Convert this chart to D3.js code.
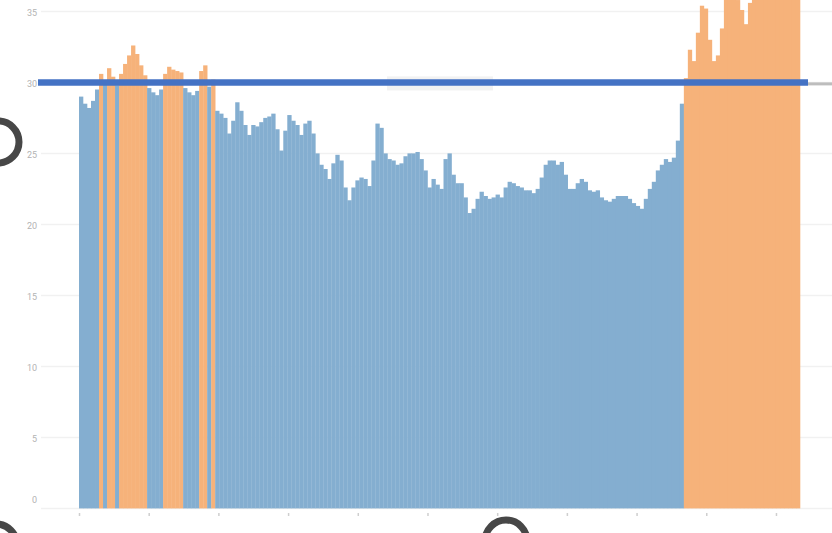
<!DOCTYPE html>
<html>
<head>
<meta charset="utf-8">
<script src="https://cdn.jsdelivr.net/npm/d3@7"></script>
<style>
  html, body { margin: 0; padding: 0; background: #fff; overflow: hidden; }
  svg { display: block; }
</style>
</head>
<body>
<svg id="chart" width="832" height="533"></svg>
<script>
// ---- data ----
const values = [
  29.0, 28.5, 28.2, 28.7, 29.5, 30.6, 29.9, 31.0, 30.4, 29.8,
  30.6, 31.3, 31.9, 32.6, 32.0, 31.2, 30.5, 29.6, 29.3, 29.1,
  29.5, 30.6, 31.1, 30.9, 30.8, 30.7, 29.6, 29.3, 29.1, 29.4,
  30.8, 31.2, 29.7, 30.2, 28.0, 27.8, 27.5, 26.4, 27.3, 28.6,
  28.0, 27.0, 26.3, 27.0, 26.9, 27.2, 27.5, 27.6, 27.8, 26.7,
  25.2, 26.6, 27.7, 27.3, 27.0, 26.3, 27.1, 27.3, 26.4, 25.0,
  24.2, 23.9, 23.2, 24.3, 24.9, 24.5, 22.6, 21.7, 22.6, 23.1,
  23.3, 23.2, 22.7, 24.5, 27.1, 26.8, 25.0, 24.6, 24.5, 24.2,
  24.3, 24.8, 25.0, 25.0, 25.1, 24.6, 23.8, 22.6, 23.2, 22.8,
  22.5, 24.6, 25.0, 23.5, 22.9, 22.9, 21.9, 20.8, 21.1, 21.8,
  22.3, 22.0, 21.8, 21.9, 22.1, 21.9, 22.6, 23.0, 22.9, 22.7,
  22.6, 22.4, 22.4, 22.2, 22.5, 23.3, 24.2, 24.5, 24.5, 24.2,
  24.4, 23.5, 22.5, 22.5, 22.9, 23.2, 23.0, 22.4, 22.3, 22.4,
  21.9, 21.7, 21.6, 21.8, 22.0, 22.0, 22.0, 21.8, 21.5, 21.3,
  21.1, 21.8, 22.5, 23.0, 23.8, 24.2, 24.6, 24.4, 24.7, 25.9,
  28.5, 30.3, 32.3, 31.5, 33.5, 35.4, 35.2, 33.0, 31.5, 31.9,
  33.8, 36.8, 37.5, 37.2, 35.8, 35.1, 34.1, 35.6, 36.6, 37.4,
  38.0, 37.6, 38.2, 37.8, 38.5, 38.1, 37.9, 38.4, 38.0, 37.7
];
const threshold = 30;
const yTickValues = [0, 5, 10, 15, 20, 25, 30, 35];
const yTickLabels = ["0", "5", "10", "15", "20", "25", "30", "35"];
const xTickIndex = [0, 17.4, 34.8, 52.2, 69.6, 87, 104.4, 121.8, 139.2, 156.6, 174];

// ---- layout ----
const svg = d3.select("#chart");
const plotLeft = 79, plotRight = 800;
const y = d3.scaleLinear().domain([0, 35]).range([508.4, 11.4]);
const x = d3.scaleBand().domain(d3.range(values.length)).range([plotLeft, plotRight]).paddingInner(0);
const xLin = d3.scaleLinear().domain([0, values.length]).range([plotLeft, plotRight]);

// gridlines
svg.append("g").selectAll("line").data(yTickValues).join("line")
  .attr("x1", 41).attr("x2", 832)
  .attr("y1", d => y(d)).attr("y2", d => y(d))
  .attr("stroke", "#f1f1f1").attr("stroke-width", 1.5);

// y labels
const yAxis = d3.axisLeft(y).tickValues(yTickValues).tickFormat((d, i) => yTickLabels[i]).tickSize(0).tickPadding(0);
const gy = svg.append("g").attr("transform", "translate(37,0)").call(yAxis);
gy.select(".domain").remove();
gy.selectAll("text")
  .attr("font-family", "Roboto, 'Liberation Sans', sans-serif")
  .attr("font-size", 9).attr("fill", "#b3b3b3")
  .attr("dy", d => d === 0 ? "-0.7em" : "0.4em");

// bars
svg.append("g").selectAll("rect").data(values).join("rect")
  .attr("x", (d, i) => x(i))
  .attr("width", x.bandwidth() + 0.3)
  .attr("y", d => y(d))
  .attr("height", d => y(0) - y(d))
  .attr("fill", d => d > threshold ? "#F6B27A" : "#84AED0");

// x axis ticks
const xAxis = d3.axisBottom(xLin).tickValues(xTickIndex).tickFormat("").tickSize(3);
const gx = svg.append("g").attr("transform", "translate(0,513)").call(xAxis);
gx.select(".domain").remove();
gx.selectAll("line").attr("stroke", "#cfcfcf").attr("stroke-width", 1.5);

// faint label box behind the reference line
svg.append("rect").attr("x", 387).attr("y", y(threshold) - 6).attr("width", 106).attr("height", 14)
  .attr("fill", "#ececec").attr("opacity", 0.7);

// reference line at threshold
svg.append("line").attr("x1", 808).attr("x2", 832)
  .attr("y1", y(threshold) + 1.5).attr("y2", y(threshold) + 1.5)
  .attr("stroke", "#bdbdbd").attr("stroke-width", 3);
svg.append("line").attr("x1", 38).attr("x2", 808)
  .attr("y1", y(threshold)).attr("y2", y(threshold))
  .attr("stroke", "#4472C4").attr("stroke-width", 6.5);

// overlay rings (cursor markers)
const rings = [{cx: -2, cy: 142, r: 21}, {cx: -4, cy: 545, r: 21}, {cx: 506, cy: 541, r: 21}];
svg.append("g").selectAll("circle").data(rings).join("circle")
  .attr("cx", d => d.cx).attr("cy", d => d.cy).attr("r", d => d.r)
  .attr("fill", "none").attr("stroke", "#474747").attr("stroke-width", 7);
</script>
</body>
</html>
